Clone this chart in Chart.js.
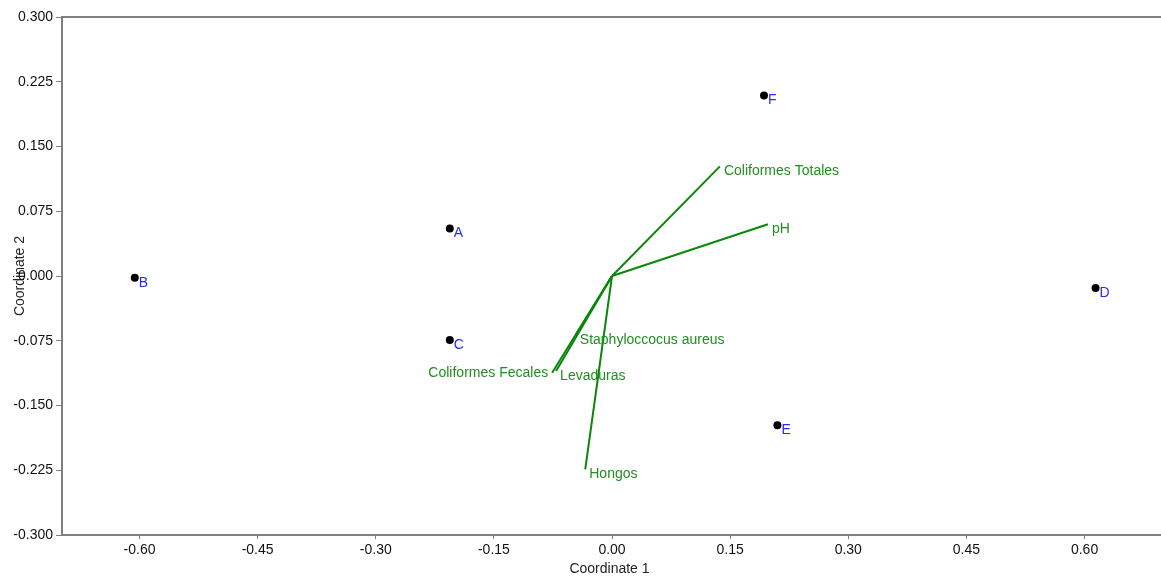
<!DOCTYPE html>
<html>
<head>
<meta charset="utf-8">
<script src="https://cdn.jsdelivr.net/npm/chart.js@4/dist/chart.umd.min.js"></script>
<style>
    html, body { margin: 0; padding: 0; background: #fff; }
    #wrap { width: 1161px; height: 578px; }
</style>
</head>
<body>
<div id="wrap"><canvas id="pcoChart"></canvas></div>
<script>
// Sites (samples) in ordination space
const siteNames = ['A', 'B', 'C', 'D', 'E', 'F'];
const siteX = [-0.206, -0.606, -0.206, 0.614, 0.210, 0.193];
const siteY = [0.055, -0.002, -0.074, -0.014, -0.173, 0.209];

// Variable vectors (drawn from the origin)
const varNames = ['Coliformes Totales', 'pH', 'Staphyloccocus aureus', 'Coliformes Fecales', 'Levaduras', 'Hongos'];
const varX = [0.137, 0.198, -0.046, -0.076, -0.071, -0.034];
const varY = [0.127, 0.060, -0.068, -0.112, -0.110, -0.224];
const varAlign = ['left', 'left', 'left', 'right', 'left', 'left'];

// Tick labels
const xTicks = [-0.60, -0.45, -0.30, -0.15, 0.00, 0.15, 0.30, 0.45, 0.60];
const yTicks = [-0.300, -0.225, -0.150, -0.075, 0.000, 0.075, 0.150, 0.225, 0.300];

const AXIS_GRAY = '#808080';
const VECTOR_GREEN = '#0a870a';
const LABEL_GREEN = '#1f8f1f';
const LABEL_BLUE = '#2a2aff';
const FONT = 'Arial, "Liberation Sans", sans-serif';

document.addEventListener('DOMContentLoaded', function() {
    createChart(document.getElementById('pcoChart'));
});

function buildDatasets() {
    const datasets = [];

    // one dataset per vector: origin -> end point
    varNames.forEach((name, i) => {
        datasets.push({
            label: name,
            kind: 'vector',
            align: varAlign[i],
            data: [{ x: 0, y: 0 }, { x: varX[i], y: varY[i] }],
            showLine: true,
            borderColor: VECTOR_GREEN,
            borderWidth: 2,
            pointRadius: 0,
            fill: false
        });
    });

    datasets.push({
        label: 'Sites',
        kind: 'sites',
        data: siteX.map((x, i) => ({ x: x, y: siteY[i] })),
        backgroundColor: '#000',
        borderColor: '#000',
        pointRadius: 4,
        pointBorderWidth: 0,
        showLine: false
    });

    return datasets;
}

// Draws the text labels next to the vector ends and the site points
const labelPlugin = {
    id: 'pointLabels',
    afterDatasetsDraw(chart) {
        const ctx = chart.ctx;
        const xs = chart.scales.x;
        const ys = chart.scales.y;
        ctx.save();
        ctx.font = '14px ' + FONT;
        ctx.textBaseline = 'middle';

        chart.data.datasets.forEach(ds => {
            if (ds.kind === 'vector') {
                const end = ds.data[1];
                const px = xs.getPixelForValue(end.x);
                const py = ys.getPixelForValue(end.y);
                ctx.fillStyle = LABEL_GREEN;
                if (ds.align === 'right') {
                    ctx.textAlign = 'right';
                    ctx.fillText(ds.label, px - 4, py);
                } else {
                    ctx.textAlign = 'left';
                    ctx.fillText(ds.label, px + 4, py + 5);
                }
            } else if (ds.kind === 'sites') {
                ctx.fillStyle = LABEL_BLUE;
                ctx.textAlign = 'left';
                ds.data.forEach((pt, i) => {
                    const px = xs.getPixelForValue(pt.x);
                    const py = ys.getPixelForValue(pt.y);
                    ctx.fillText(siteNames[i], px + 4, py + 5);
                });
            }
        });
        ctx.restore();
    },
    afterDraw(chart) {
        // top frame line, and axis line running on to the canvas edge
        const area = chart.chartArea;
        const ctx = chart.ctx;
        ctx.save();
        ctx.strokeStyle = AXIS_GRAY;
        ctx.lineWidth = 2;
        ctx.beginPath();
        ctx.moveTo(area.left - 1, area.top);
        ctx.lineTo(chart.width, area.top);
        ctx.moveTo(area.right - 1, area.bottom);
        ctx.lineTo(chart.width, area.bottom);
        ctx.stroke();
        ctx.restore();
    }
};

function createChart(canvas) {
    const tickFont = { family: FONT, size: 14 };

    new Chart(canvas, {
        type: 'scatter',
        data: { datasets: buildDatasets() },
        plugins: [labelPlugin],
        options: {
            responsive: true,
            maintainAspectRatio: false,
            animation: false,
            layout: { padding: { top: 17, right: 0, left: 0, bottom: 0 } },
            plugins: {
                legend: { display: false },
                tooltip: { enabled: false }
            },
            scales: {
                x: {
                    type: 'linear',
                    min: -0.6984,
                    max: 0.692,
                    afterBuildTicks: scale => { scale.ticks = xTicks.map(v => ({ value: v })); },
                    afterFit: scale => { scale.height = 43; },
                    grid: { drawOnChartArea: false, color: AXIS_GRAY, tickLength: 4 },
                    border: { color: AXIS_GRAY, width: 2 },
                    ticks: {
                        color: '#111',
                        font: tickFont,
                        padding: 3,
                        maxRotation: 0,
                        callback: v => v.toFixed(2)
                    },
                    title: {
                        display: true,
                        text: 'Coordinate 1',
                        color: '#222',
                        font: tickFont,
                        padding: { top: 0, bottom: 0 }
                    }
                },
                y: {
                    type: 'linear',
                    min: -0.3,
                    max: 0.3,
                    afterBuildTicks: scale => { scale.ticks = yTicks.map(v => ({ value: v })); },
                    afterFit: scale => { scale.width = 62; },
                    grid: { drawOnChartArea: false, color: AXIS_GRAY, tickLength: 6 },
                    border: { color: AXIS_GRAY, width: 2 },
                    ticks: {
                        color: '#111',
                        font: tickFont,
                        padding: 3,
                        callback: v => v.toFixed(3)
                    },
                    title: {
                        display: true,
                        text: 'Coordinate 2',
                        color: '#222',
                        font: tickFont,
                        padding: { top: 12, bottom: 0 }
                    }
                }
            }
        }
    });
}
</script>
</body>
</html>
